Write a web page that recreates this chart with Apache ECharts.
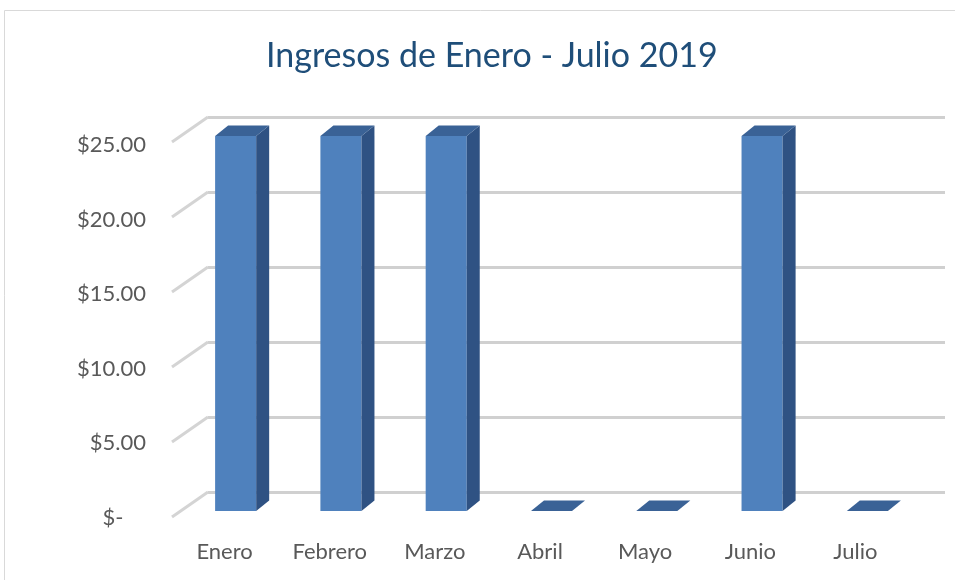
<!DOCTYPE html>
<html>
<head>
<meta charset="utf-8">
<style>
  html, body { margin: 0; padding: 0; background: #fff; }
  #chart { width: 955px; height: 580px; }
</style>
<script src="https://cdn.jsdelivr.net/npm/echarts@6/dist/echarts.min.js"></script>
</head>
<body>
<div id="chart"></div>
<script>
'use strict';

var meses = ['Enero', 'Febrero', 'Marzo', 'Abril', 'Mayo', 'Junio', 'Julio'];
var ingresos = [25, 25, 25, 0, 0, 25, 0];
var ticks = [0, 5, 10, 15, 20, 25];

var FONT = 'Lato';

// 3D look: back wall grid (0) + front plane grid (1) shifted left/down
var frente = { dx: -25, dy: 19 };  // bar front face, relative to back wall
var fondo = { dx: 13, dy: -10.5 }; // bar depth, relative to front face

function dinero(v) {
    return v === 0 ? '$-    ' : '$' + v.toFixed(2);
}

function barra3d(params, api) {
    var i = api.value(0);
    var p = api.coord([i, api.value(1)]);
    var p0 = api.coord([i, 0]);
    var w = api.size([1, 0])[0] * 0.39;
    var x1 = p[0] + frente.dx - w / 2;
    var x2 = x1 + w;
    var yt = p[1] + frente.dy;
    var yb = p0[1] + frente.dy;
    var dx = fondo.dx, dy = fondo.dy;
    return {
        type: 'group',
        children: [{
            type: 'rect',
            shape: { x: x1, y: yt, width: w, height: yb - yt },
            style: { fill: '#4f81bd' }
        }, {
            type: 'polygon',
            shape: { points: [[x2, yt], [x2 + dx, yt + dy], [x2 + dx, yb + dy], [x2, yb]] },
            style: { fill: '#2f5283' }
        }, {
            type: 'polygon',
            shape: { points: [[x1, yt], [x1 + dx, yt + dy], [x2 + dx, yt + dy], [x2, yt]] },
            style: { fill: '#3a6296' }
        }]
    };
}

// diagonal tick lines from front plane to back wall
function diagonal(params, api) {
    var p = api.coord([0, api.value(0)]);
    return {
        type: 'line',
        shape: { x1: 172, y1: p[1] + 25, x2: 208, y2: p[1] },
        style: { stroke: '#d4d4d4', lineWidth: 3 }
    };
}

var chart = echarts.init(document.getElementById('chart'));

chart.setOption({
    animation: false,
    title: {
        text: 'Ingresos de Enero - Julio 2019',
        left: 261,
        top: 34,
        textStyle: { fontFamily: FONT, fontSize: 34, fontWeight: 'normal', color: '#1f4e79' }
    },
    graphic: [{
        type: 'rect',
        shape: { x: 4.5, y: 10.5, width: 1000, height: 1000 },
        style: { fill: 'none', stroke: '#d9d9d9', lineWidth: 1 },
        z: -10
    }],
    grid: [
        { left: 208, right: 10, top: 117, bottom: 88 },
        { left: 172, right: 47, top: 145, bottom: 62 }
    ],
    xAxis: [{
        gridIndex: 0,
        type: 'category',
        data: meses,
        axisLine: { show: false },
        axisTick: { show: false },
        axisLabel: { show: false }
    }, {
        gridIndex: 1,
        type: 'category',
        data: meses,
        axisLine: { show: false },
        axisTick: { show: false },
        axisLabel: { margin: 23, fontFamily: FONT, fontSize: 22, color: '#595959' }
    }],
    yAxis: [{
        gridIndex: 0,
        type: 'value',
        min: 0,
        max: 25,
        interval: 5,
        axisLabel: { show: false },
        axisLine: { show: false },
        axisTick: { show: false },
        splitLine: { lineStyle: { color: '#d0d0d0', width: 3 } }
    }, {
        gridIndex: 1,
        type: 'value',
        min: 0,
        max: 25,
        interval: 5,
        axisLine: { show: false },
        axisTick: { show: false },
        splitLine: { show: false },
        axisLabel: { margin: 26, fontFamily: FONT, fontSize: 22, color: '#595959', formatter: dinero }
    }],
    series: [{
        type: 'custom',
        xAxisIndex: 0,
        yAxisIndex: 0,
        renderItem: diagonal,
        data: ticks.map(function (t) { return [t]; }),
        encode: { y: 0 },
        silent: true
    }, {
        type: 'custom',
        xAxisIndex: 0,
        yAxisIndex: 0,
        renderItem: barra3d,
        data: ingresos.map(function (v, i) { return [i, v]; }),
        encode: { x: 0, y: 1 },
        z: 5
    }]
});
</script>
</body>
</html>
